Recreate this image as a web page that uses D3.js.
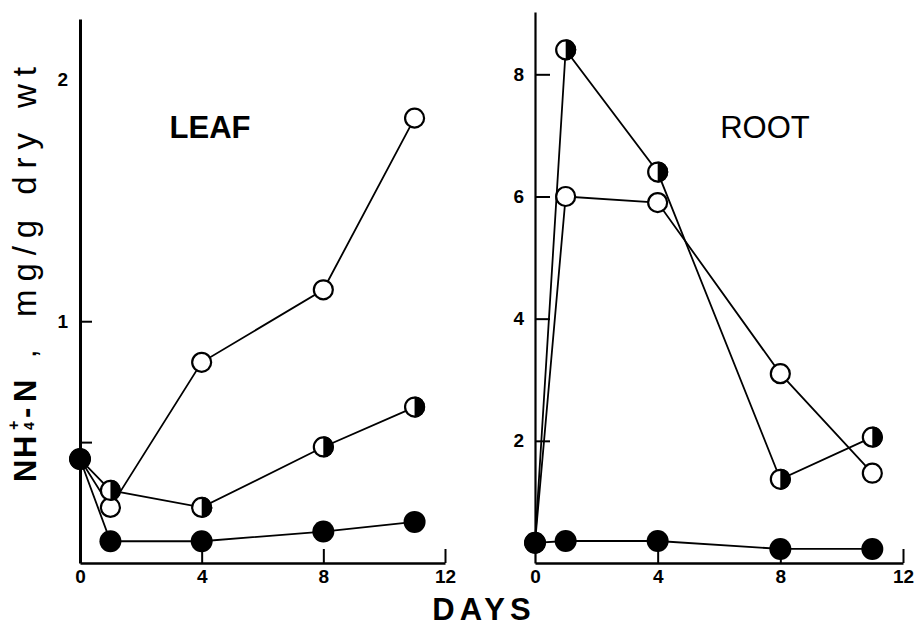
<!DOCTYPE html>
<html>
<head>
<meta charset="utf-8">
<script src="https://cdn.jsdelivr.net/npm/d3@7"></script>
<style>
  body { margin: 0; background: #fff; }
  svg { font-family: "Liberation Sans", Arial, Helvetica, sans-serif; }
</style>
</head>
<body>
<svg width="917" height="627"></svg>
<script>
// sampling days
const days = [0, 1, 4, 8, 11];

// leaf NH4-N, mg/g dry wt
const leafOpen = [0.43, 0.23, 0.83, 1.13, 1.84];
const leafHalf = [0.43, 0.30, 0.23, 0.48, 0.645];
const leafFilled = [0.43, 0.09, 0.09, 0.13, 0.17];

// root NH4-N, mg/g dry wt
const rootOpen = [0.33, 6.0, 5.9, 3.1, 1.47];
const rootHalf = [0.33, 8.4, 6.4, 1.37, 2.06];
const rootFilled = [0.33, 0.36, 0.36, 0.23, 0.23];

const xTicks = [0, 4, 8, 12];
const leafYTicks = [0.5, 1, 2];
const rootYTicks = [2, 4, 6, 8];

var svg = d3.select("svg");
var font = '"Liberation Sans", Arial, Helvetica, sans-serif';

function drawPanel(opt) {
    var x = d3.scaleLinear().domain([0, 12]).range(opt.xRange);
    var y = d3.scaleLinear().domain(opt.yDomain).range([563, opt.yTop]);
    var g = svg.append("g");

    // x axis, ticks pointing up
    var xa = g.append("g")
        .attr("transform", "translate(0," + y(0) + ")")
        .call(d3.axisBottom(x).tickValues(xTicks).tickSizeInner(-14).tickSizeOuter(0).tickPadding(7))
        .attr("font-family", font).attr("font-size", 19);
    xa.select(".domain").attr("stroke-width", 2.5);
    xa.selectAll(".tick line").attr("stroke-width", 2).filter(d => d === 0).remove();
    xa.selectAll(".tick text").attr("font-weight", "bold").attr("fill", "#000");

    // y axis, ticks pointing in
    var ya = g.append("g")
        .attr("transform", "translate(" + x(0) + ",0)")
        .call(d3.axisLeft(y).tickValues(opt.yTicks).tickSizeInner(-opt.tick).tickSizeOuter(0).tickPadding(opt.pad)
            .tickFormat(d => d % 1 ? "" : d))
        .attr("font-family", font).attr("font-size", 19);
    ya.select(".domain").attr("stroke-width", opt.axisW);
    ya.selectAll(".tick line").attr("stroke-width", 2);
    if (opt.noTickAt != null) ya.selectAll(".tick line").filter(d => d === opt.noTickAt).remove();
    ya.selectAll(".tick text").attr("font-weight", "bold").attr("fill", "#000");

    var line = d3.line().x((d, i) => x(days[i])).y(d => y(d));

    opt.series.forEach(s => {
        g.append("path")
            .attr("d", line(s.values))
            .attr("fill", "none")
            .attr("stroke", "#000")
            .attr("stroke-width", 1.8);
    });

    opt.series.forEach(s => {
        var pts = g.selectAll(null).data(s.values).enter().append("g")
            .attr("transform", (d, i) => "translate(" + x(days[i]) + "," + y(d) + ")");
        if (s.kind == "filled") {
            pts.append("circle").attr("r", 11).attr("fill", "#000");
        } else {
            pts.append("circle").attr("r", 9.5)
                .attr("fill", "#fff").attr("stroke", "#000").attr("stroke-width", 2.2);
            if (s.kind == "half") {
                pts.append("path")
                    .attr("d", "M0,-10.6A10.6,10.6 0 0 1 0,10.6Z")
                    .attr("fill", "#000");
            }
        }
    });

    g.append("text")
        .attr("x", opt.label.x).attr("y", 138)
        .attr("text-anchor", "middle")
        .attr("font-size", 31)
        .attr("font-weight", opt.label.weight)
        .text(opt.label.text);
}

drawPanel({
    xRange: [80, 445], yDomain: [0, 2.25], yTop: 19,
    yTicks: leafYTicks, tick: 12, pad: 12, axisW: 3, noTickAt: 2,
    label: { text: "LEAF", x: 210, weight: "bold" },
    series: [
        { kind: "open", values: leafOpen },
        { kind: "half", values: leafHalf },
        { kind: "filled", values: leafFilled }
    ]
});

drawPanel({
    xRange: [535, 903], yDomain: [0, 9.02], yTop: 12,
    yTicks: rootYTicks, tick: 15, pad: 11, axisW: 2.2, noTickAt: null,
    label: { text: "ROOT", x: 765, weight: "normal" },
    series: [
        { kind: "open", values: rootOpen },
        { kind: "half", values: rootHalf },
        { kind: "filled", values: rootFilled }
    ]
});

// shared x title
svg.append("text")
    .attr("x", 484).attr("y", 620)
    .attr("text-anchor", "middle")
    .attr("font-size", 31)
    .attr("font-weight", "bold")
    .attr("letter-spacing", 5)
    .text("DAYS");

// y title, rotated; pieces placed along the rotated baseline
var yt = svg.append("g")
    .attr("transform", "translate(36,482) rotate(-90)")
    .attr("font-weight", "bold")
    .attr("font-size", 31);
yt.append("text").attr("x", 0).text("N");
yt.append("text").attr("x", 24).text("H");
yt.append("text").attr("x", 52).attr("y", -2).attr("font-size", 14).text("4");
yt.append("text").attr("x", 52).attr("y", -17).attr("font-size", 16).text("+");
yt.append("text").attr("x", 64).text("-");
yt.append("text").attr("x", 80).text("N");
yt.append("text").attr("x", 124).attr("font-weight", "normal").text(",");
yt.append("text").attr("x", 165)
    .attr("font-weight", "normal").attr("font-size", 33)
    .attr("textLength", 250).attr("lengthAdjust", "spacing")
    .text("mg/g dry wt");
</script>
</body>
</html>
